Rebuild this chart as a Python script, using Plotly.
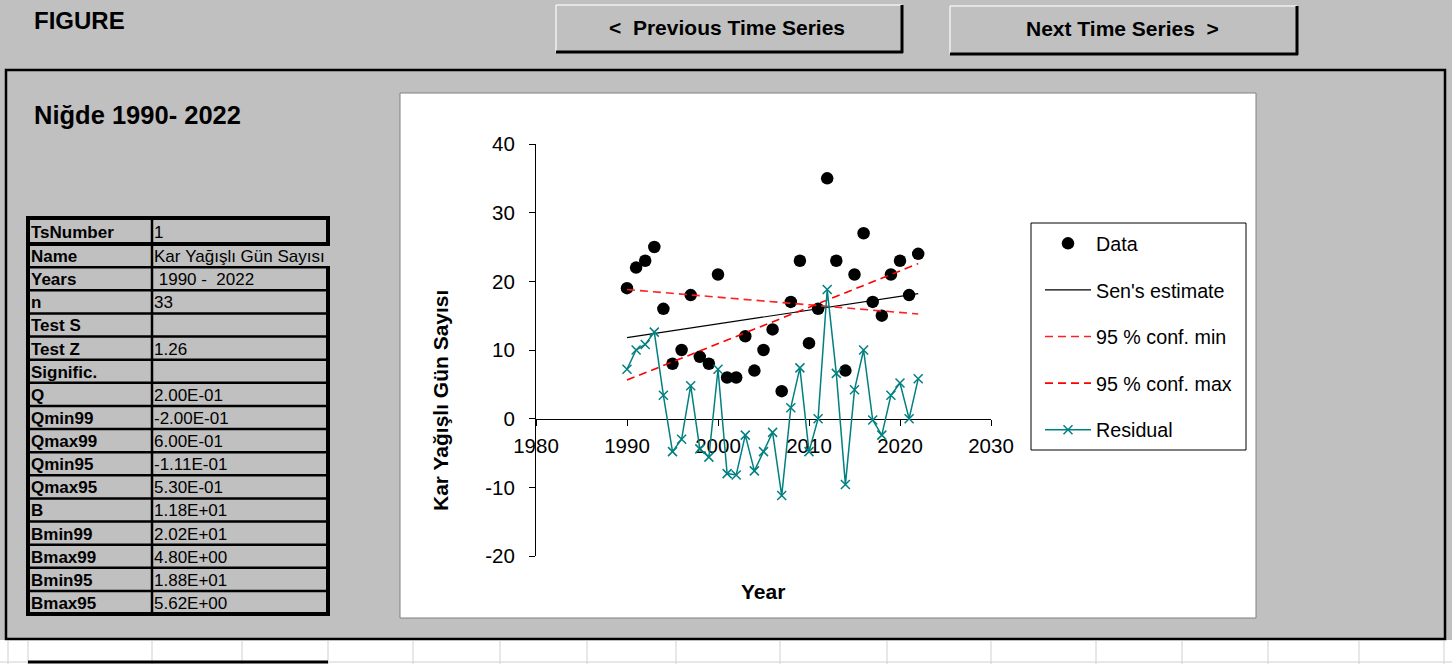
import plotly.graph_objects as go

# ---------------- data ----------------
years = list(range(1990, 2023))
data_vals = [19, 22, 23, 25, 16, 8, 10, 18, 9, 8, 21, 6, 6, 12, 7, 10, 13, 4, 17, 23,
             11, 16, 35, 23, 7, 21, 27, 17, 15, 21, 23, 18, 24]
residual_vals = [7.2, 10.0, 10.8, 12.6, 3.4, -4.8, -3.0, 4.8, -4.4, -5.6, 7.2, -8.0, -8.2,
                 -2.4, -7.6, -4.8, -2.0, -11.2, 1.6, 7.4, -4.8, 0.0, 18.8, 6.6, -9.6, 4.2,
                 10.0, -0.2, -2.4, 3.4, 5.2, 0.0, 5.8]
line_years = [1990, 2022]
sen_vals = [11.8, 18.2]
conf_min_vals = [18.8, 15.25]
conf_max_vals = [5.62, 22.58]

x_tick_vals = [1980, 1990, 2000, 2010, 2020, 2030]
x_tick_text = ["1980", "1990", "2000", "2010", "2020", "2030"]
y_tick_vals = [-20, -10, 0, 10, 20, 30, 40]
y_tick_text = ["-20", "-10", "0", "10", "20", "30", "40"]

table_labels = ["TsNumber", "Name", "Years", "n", "Test S", "Test Z", "Signific.", "Q",
                "Qmin99", "Qmax99", "Qmin95", "Qmax95", "B", "Bmin99", "Bmax99",
                "Bmin95", "Bmax95"]
table_values = ["1", "Kar Yağışlı Gün Sayısı", " 1990 -  2022", "33", "", "1.26", "",
                "2.00E-01", "-2.00E-01", "6.00E-01", "-1.11E-01", "5.30E-01", "1.18E+01",
                "2.02E+01", "4.80E+00", "1.88E+01", "5.62E+00"]

title_text = "Niğde 1990- 2022"
y_title = "Kar Yağışlı Gün Sayısı"
x_title = "Year"
legend_names = ["Data", "Sen's estimate", "95 % conf. min", "95 % conf. max", "Residual"]

# ---------------- layout helpers ----------------
W, H = 1452, 664
FONT = "Arial, Liberation Sans, sans-serif"


def X(p):
    return p / W


def Y(p):
    return 1 - p / H


shapes = []
annotations = []


def rect(x0, y0, x1, y1, fill=None, line=None, lw=1, layer="below"):
    shapes.append(dict(type="rect", xref="paper", yref="paper", x0=X(x0), x1=X(x1),
                       y0=Y(y1), y1=Y(y0), fillcolor=fill if fill else "rgba(0,0,0,0)",
                       line=dict(color=line if line else "rgba(0,0,0,0)", width=lw if line else 0),
                       layer=layer))


def seg(x0, y0, x1, y1, color="black", lw=1, layer="below"):
    shapes.append(dict(type="line", xref="paper", yref="paper", x0=X(x0), x1=X(x1),
                       y0=Y(y0), y1=Y(y1), line=dict(color=color, width=lw), layer=layer))


def text(x, y, s, size, bold=False, anchor="left", color="black", angle=0):
    annotations.append(dict(xref="paper", yref="paper", x=X(x), y=Y(y), text=(f"<b>{s}</b>" if bold else s),
                            showarrow=False, xanchor=anchor, yanchor="middle", textangle=angle,
                            borderpad=0, font=dict(family=FONT, size=size, color=color)))


# bottom spreadsheet strip
rect(0, 640, W, H, fill="white")
for gx in [8, 28, 152, 242, 328, 413, 500, 587, 676, 780, 887, 991, 1096, 1182, 1268, 1359, 1444]:
    seg(gx, 641, gx, 664, color="#D0D0D0", lw=1)
seg(0, 662, W, 662, color="#D0D0D0", lw=1)
seg(28, 662, 328, 662, color="black", lw=3)

# main frame
rect(6, 70, 1445, 639, line="black", lw=2.5)

# buttons
for (bx0, by0, bx1, by1, label, cx) in [(556, 5, 902, 52, "&lt;  Previous Time Series", 727),
                                          (950, 6, 1297, 54, "Next Time Series  &gt;", 1122)]:
    rect(bx0, by0, bx1, by1, fill="#C0C0C0")
    seg(bx0, by0, bx1, by0, color="#F0F0F0", lw=1.5)
    seg(bx0, by0, bx0, by1, color="#F0F0F0", lw=1.5)
    seg(bx0, by1, bx1 + 1, by1, color="black", lw=3)
    seg(bx1, by0, bx1, by1 + 1, color="black", lw=3)
    text(cx, (by0 + by1) / 2 - 1, label, 21, bold=True, anchor="center")

text(33, 20, "FIGURE", 24, bold=True)
text(33, 115, title_text, 25.5, bold=True)

# table
row_edges = [218, 244] + [244 + 23.125 * (i + 1) for i in range(16)]
tl, tm, tr = 28, 152, 328
for i, (lab, val) in enumerate(zip(table_labels, table_values)):
    cy = (row_edges[i] + row_edges[i + 1]) / 2
    text(30, cy + 1, lab, 17, bold=True)
    text(153, cy + 1, val.replace(" ", "\u00a0"), 17)
for i, e in enumerate(row_edges):
    lw = 4 if i in (0, 1, len(row_edges) - 1) else 2.5
    seg(tl - 2, e, tr + 2, e, lw=lw)
seg(tl, 216, tl, 616, lw=4)
seg(tm, 218, tm, 614, lw=2.5)
seg(tr, 216, tr, 246, lw=4)
seg(tr, 267, tr, 616, lw=4)

# chart area
rect(400, 93, 1256, 618, fill="white", line="#808080", lw=1)
# legend box
rect(1031, 223, 1246, 450, fill="white", line="black", lw=1)

text(440, 401, y_title, 21, bold=True, anchor="center", angle=-90)
text(763, 591, x_title, 21, bold=True, anchor="center")

# ---------------- traces ----------------
fig = go.Figure()
fig.add_trace(go.Scatter(x=years, y=data_vals, mode="markers", name=legend_names[0], legendgroup="a",
                         marker=dict(symbol="circle", size=12.5, color="black")))
fig.add_trace(go.Scatter(x=line_years, y=sen_vals, mode="lines", name=legend_names[1], legendgroup="b",
                         line=dict(color="black", width=1.2)))
fig.add_trace(go.Scatter(x=line_years, y=conf_min_vals, mode="lines", name=legend_names[2], legendgroup="c",
                         line=dict(color="#FF2020", width=1.6, dash="8px,5px")))
fig.add_trace(go.Scatter(x=line_years, y=conf_max_vals, mode="lines", name=legend_names[3], legendgroup="d",
                         line=dict(color="#FF0000", width=1.6, dash="8px,5px")))
fig.add_trace(go.Scatter(x=years, y=residual_vals, mode="lines+markers", name=legend_names[4], legendgroup="e",
                         line=dict(color="#008080", width=1.5),
                         marker=dict(symbol="x-thin", size=9, color="#008080",
                                     line=dict(color="#008080", width=1.5))))

y_dom = [Y(556), Y(144)]
pos0 = y_dom[0] + (0 - (-20)) / 60 * (y_dom[1] - y_dom[0])

fig.update_layout(
    template="none",
    width=W, height=H, margin=dict(l=0, r=0, t=0, b=0, pad=0, autoexpand=False),
    paper_bgcolor="#C0C0C0", plot_bgcolor="rgba(0,0,0,0)",
    font=dict(family=FONT, color="black"),
    xaxis=dict(domain=[X(536), X(991)], range=[1980, 2030], anchor="free", position=pos0,
               showline=True, linecolor="black", linewidth=1, ticks="outside", ticklen=6,
               tickcolor="black", tickwidth=1, tickvals=x_tick_vals, ticktext=x_tick_text,
               tickfont=dict(size=20.5, family=FONT), showgrid=False, zeroline=False,
               ticklabelstandoff=3, layer="below traces", automargin=False),
    yaxis=dict(domain=y_dom, range=[-20, 40], anchor="x",
               showline=True, linecolor="black", linewidth=1, ticks="outside", ticklen=6,
               tickcolor="black", tickwidth=1, tickvals=y_tick_vals, ticktext=y_tick_text,
               tickfont=dict(size=20.5, family=FONT), showgrid=False, zeroline=False,
               ticklabelstandoff=10, automargin=False),
    showlegend=True,
    legend=dict(x=X(1040), y=Y(224), xanchor="left", yanchor="top", bgcolor="rgba(0,0,0,0)",
                borderwidth=0, font=dict(size=19.7, family=FONT), tracegroupgap=18, itemwidth=46),
    shapes=shapes, annotations=annotations,
)

fig.write_html("out.html", config={"displayModeBar": False},
               post_script="document.body.style.margin='0';document.body.style.overflow='hidden';")
